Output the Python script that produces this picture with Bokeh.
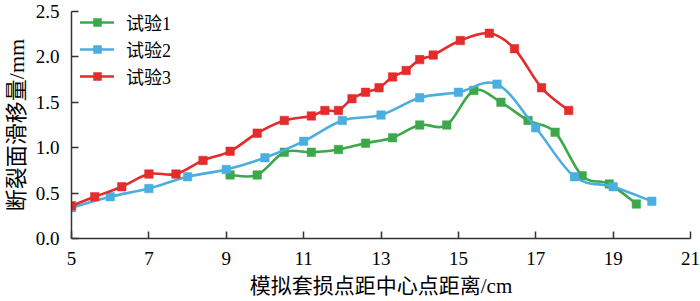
from bokeh.plotting import figure
from bokeh.models import Range1d, FixedTicker, NumeralTickFormatter, Legend, LegendItem, ColumnDataSource
from bokeh.embed import file_html
from bokeh.resources import INLINE

# ---- data ----
trial1_x = [9.1, 9.8, 10.5, 11.2, 11.9, 12.6, 13.3, 14.0, 14.7, 15.4, 16.1, 16.8, 17.5, 18.2, 18.9, 19.6]
trial1_y = [0.70, 0.70, 0.95, 0.95, 0.98, 1.05, 1.11, 1.25, 1.25, 1.63, 1.50, 1.30, 1.17, 0.69, 0.60, 0.38]

trial2_x = [5, 6, 7, 8, 9, 10, 11, 12, 13, 14, 15, 16, 17, 18, 19, 20]
trial2_y = [0.34, 0.46, 0.55, 0.68, 0.76, 0.89, 1.07, 1.30, 1.36, 1.55, 1.61, 1.70, 1.22, 0.68, 0.57, 0.41]

trial3_x = [5.0, 5.6, 6.3, 7.0, 7.7, 8.4, 9.1, 9.8, 10.5, 11.2, 11.55, 11.9, 12.25, 12.6,
            12.95, 13.3, 13.65, 14.0, 14.35, 15.05, 15.8, 16.45, 17.15, 17.85]
trial3_y = [0.36, 0.46, 0.57, 0.71, 0.71, 0.86, 0.96, 1.16, 1.30, 1.35, 1.41, 1.41, 1.54, 1.61,
            1.66, 1.78, 1.85, 1.97, 2.02, 2.18, 2.26, 2.09, 1.66, 1.41]

series_names = ["试验1", "试验2", "试验3"]
series_colors = ["#3da84a", "#4aaee0", "#e52b2b"]

x_ticks = [5, 7, 9, 11, 13, 15, 17, 19, 21]
y_ticks = [0.0, 0.5, 1.0, 1.5, 2.0, 2.5]

x_label = "模拟套损点距中心点距离/cm"
y_label = "断裂面滑移量/mm"


def smooth_segments(xs, ys):
    """Catmull-Rom spline through the data points, as cubic Bezier segments."""
    n = len(xs)
    d = dict(x0=[], y0=[], x1=[], y1=[], cx0=[], cy0=[], cx1=[], cy1=[])
    for i in range(n - 1):
        pm = i - 1 if i > 0 else i
        pp = i + 2 if i + 2 < n else i + 1
        d["x0"].append(xs[i]); d["y0"].append(ys[i])
        d["x1"].append(xs[i + 1]); d["y1"].append(ys[i + 1])
        d["cx0"].append(xs[i] + (xs[i + 1] - xs[pm]) / 6.0)
        d["cy0"].append(ys[i] + (ys[i + 1] - ys[pm]) / 6.0)
        d["cx1"].append(xs[i + 1] - (xs[pp] - xs[i]) / 6.0)
        d["cy1"].append(ys[i + 1] - (ys[pp] - ys[i]) / 6.0)
    return ColumnDataSource(d)


p = figure(width=700, height=301,
           x_range=Range1d(5, 21), y_range=Range1d(0, 2.5),
           output_backend="svg", toolbar_location=None,
           min_border_left=70, min_border_right=10,
           min_border_top=11, min_border_bottom=63)

p.grid.visible = False
p.outline_line_color = None
p.background_fill_color = "white"
p.border_fill_color = "white"

latin = "'Liberation Serif'"
serif = "'Liberation Serif', 'Noto Sans CJK SC'"

for ax in (p.xaxis[0], p.yaxis[0]):
    ax.axis_line_color = "#333333"
    ax.axis_line_width = 1.5
    ax.major_tick_line_color = "#333333"
    ax.major_tick_line_width = 1.5
    ax.major_tick_in = 7
    ax.major_tick_out = 0
    ax.minor_tick_line_color = None
    ax.major_label_text_font = latin
    ax.major_label_text_font_size = "19px"
    ax.major_label_text_color = "black"
    ax.axis_label_text_font = serif
    ax.axis_label_text_font_style = "normal"
    ax.axis_label_text_color = "black"

p.xaxis[0].ticker = FixedTicker(ticks=x_ticks)
p.yaxis[0].ticker = FixedTicker(ticks=y_ticks)
p.yaxis[0].formatter = NumeralTickFormatter(format="0.0")
p.xaxis[0].axis_label = x_label
p.yaxis[0].axis_label = y_label
p.xaxis[0].axis_label_text_font_size = "21px"
p.yaxis[0].axis_label_text_font_size = "22px"
p.xaxis[0].major_label_standoff = 13
p.yaxis[0].major_label_standoff = 12
p.xaxis[0].axis_label_standoff = 6
p.yaxis[0].axis_label_standoff = 4

items = []
for xs, ys, name, color in zip((trial1_x, trial2_x, trial3_x),
                               (trial1_y, trial2_y, trial3_y),
                               series_names, series_colors):
    seg = smooth_segments(xs, ys)
    b = p.bezier(x0="x0", y0="y0", x1="x1", y1="y1", cx0="cx0", cy0="cy0",
                 cx1="cx1", cy1="cy1", source=seg, line_color=color,
                 line_width=2.6, line_cap="round")
    s = p.scatter(xs, ys, marker="square", size=8.5, fill_color=color,
                  line_color=color, line_width=0.5)
    items.append(LegendItem(label=name, renderers=[b, s]))

legend = Legend(items=items, location=(9, 149), glyph_width=34, glyph_height=20,
                label_height=20, spacing=1, padding=3, margin=0, label_standoff=12,
                label_text_font=serif, label_text_font_size="18px",
                label_text_color="black",
                border_line_color=None, background_fill_alpha=0)
p.add_layout(legend)

open("out.html", "w").write(file_html(p, INLINE))
